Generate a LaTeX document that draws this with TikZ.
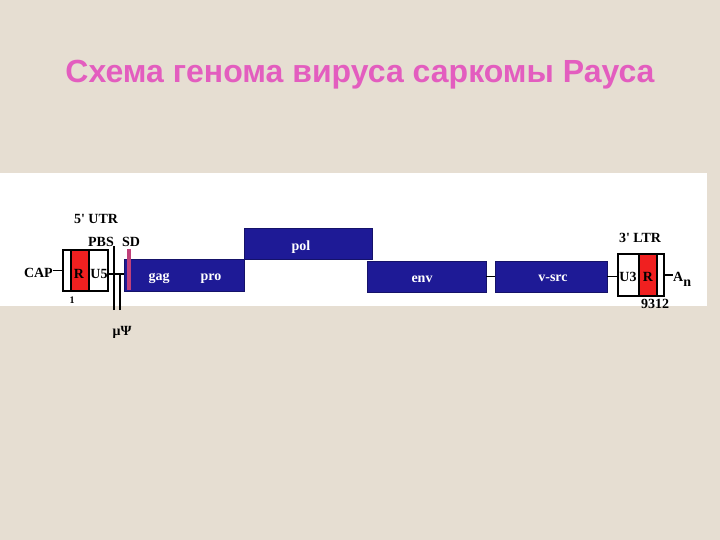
\documentclass[tikz,border=0pt]{standalone}
\usepackage{fontspec}
\setmainfont{Liberation Serif}
\newfontfamily\titlefont{Liberation Sans}
\usetikzlibrary{positioning}
\definecolor{paper}{HTML}{E6DED2}
\definecolor{navy}{HTML}{1E1A96}
\definecolor{ltrred}{HTML}{F02020}
\definecolor{sdpink}{HTML}{C0407A}
\definecolor{titlepink}{HTML}{E35DBF}

\begin{document}
\begin{tikzpicture}[x=1pt, y=-1pt,
  gene/.style={rectangle, draw=navy!70!black, fill=navy, inner sep=0, minimum height=31},
  ltr/.style={rectangle, draw, line width=1.1, inner sep=0},
  lbl/.style={font=\bfseries\fontsize{14}{14}\selectfont, inner sep=0, anchor=base},
  wlbl/.style={lbl, text=white},
  link/.style={draw, line width=1.1}
]
\fill[paper] (0,0) rectangle (720,540);
\fill[white] (0,173) rectangle (707,306);
\useasboundingbox (0,0) rectangle (720,540);

\node[font=\titlefont\bfseries\fontsize{32}{32}\selectfont, text=titlepink, anchor=base] (title) at (360,83) {Схема генома вируса саркомы Рауса};

% 5' end
\node[ltr, fill=white, minimum width=45, minimum height=41] (utr) at (85.5,270.5) {};
\node[rectangle, fill=ltrred, draw, line width=1.1, inner sep=0, minimum width=18, minimum height=41] (r5) at (80,270.5) {};
\draw[line width=1.1] (utr.south west) rectangle (utr.north east);
\node[lbl] (utrlbl) at (96,223) {5\textquotesingle{} UTR};
\node[lbl] (rlbl) at (79,278) {R};
\node[lbl] (u5) at (99,278) {U5};
\node[lbl, anchor=base east] (cap) at (53,277) {CAP};
\node[lbl, font=\bfseries\fontsize{10}{10}\selectfont] (one) at (72,303) {1};
\node[lbl] (pbs) at (101,246) {PBS};
\node[lbl] (sd) at (131,246) {SD};

% coding regions
\node[gene, minimum width=120, minimum height=32] (gag) at (184,275) {};
\node[gene, minimum width=128] (pol) at (308,243.5) {};
\node[gene, minimum width=119] (env) at (426.5,276.5) {};
\node[gene, minimum width=112] (vsrc) at (551,276.5) {};
\node[rectangle, fill=sdpink, inner sep=0, minimum width=4, minimum height=41] (sdbar) at (129,269.5) {};
\node[wlbl] (gaglbl) at (159,280) {gag};
\node[wlbl] (prolbl) at (211,280) {pro};
\node[wlbl] (pollbl) at (301,250) {pol};
\node[wlbl] (envlbl) at (422,282) {env};
\node[wlbl] (vsrclbl) at (553,281) {v-src};

% 3' end
\node[ltr, fill=white, minimum width=46, minimum height=42] (ltr3) at (641,275) {};
\node[rectangle, fill=ltrred, draw, line width=1.1, inner sep=0, minimum width=18, minimum height=42] (r3) at (648,275) {};
\draw[line width=1.1] (ltr3.south west) rectangle (ltr3.north east);
\node[lbl] (ltrlbl) at (640,243) {3\textquotesingle{} LTR};
\node[lbl] (u3) at (628,281) {U3};
\node[lbl] (r3lbl) at (648,281) {R};
\node[lbl, anchor=base west] (an) at (673,281) {A\raisebox{-5pt}{n}};
\node[lbl] (end) at (655,308) {9312};

% psi region
\coordinate (psia) at (114,310);
\coordinate (psib) at (120,310);
\node[lbl] (psi) at (122,335) {μΨ};

% connectors
\draw[link] (cap.east |- utr.west) -- (utr.west);
\draw[link] (utr.east |- 0,274) -- (gag.west |- 0,274);
\draw[link] (pbs.south east) -- (pbs.south east |- 0,274);
\draw[link] (psia) -- (psia |- 0,274);
\draw[link] (psib) -- (psib |- 0,274);
\draw[link] (env.east) -- (vsrc.west);
\draw[link] (vsrc.east) -- (vsrc.east -| ltr3.west);
\draw[link] (ltr3.east) -- (ltr3.east -| an.west);

\end{tikzpicture}
\end{document}
